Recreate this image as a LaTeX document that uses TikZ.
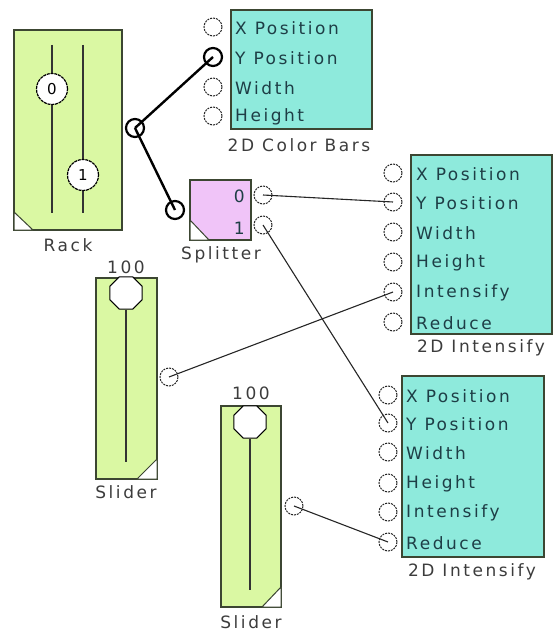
\documentclass[tikz,border=0pt]{standalone}
\usepackage{fontspec}
\usetikzlibrary{shapes.geometric}
\newfontfamily\uifont[LetterSpace=15]{DejaVu Sans}
\definecolor{boxgreen}{RGB}{218,248,163}
\definecolor{boxcyan}{RGB}{142,234,220}
\definecolor{boxpink}{RGB}{240,196,248}
\definecolor{intxt}{RGB}{30,62,70}
\definecolor{lbltxt}{RGB}{60,60,60}
\definecolor{rim}{RGB}{60,70,50}
\begin{document}
\begin{tikzpicture}[x=1pt,y=-1pt,
  mod/.style={draw=rim,line width=1.2pt,minimum width=#1,inner sep=0pt},
  port/.style={circle,draw=black!85,dash pattern=on 2pt off 1pt,line width=1pt,minimum size=18pt,inner sep=0pt},
  bport/.style={circle,draw=black,line width=2.2pt,minimum size=18pt,inner sep=0pt},
  rknob/.style={circle,draw=black,fill=white,dash pattern=on 3pt off 0.8pt,line width=1.2pt,minimum size=31pt,inner sep=0pt,font=\uifont\fontsize{15}{15}\selectfont},
  sknob/.style={regular polygon,regular polygon sides=8,draw=black,fill=white,line width=1.1pt,minimum size=#1,inner sep=0pt},
  intext/.style={anchor=west,inner sep=0pt,text=intxt,font=\uifont\fontsize{17}{17}\selectfont},
  lbl/.style={inner sep=0pt,text=lbltxt,font=\uifont\fontsize{17}{17}\selectfont},
  wire/.style={line width=1.1pt,draw=black!85},
  bwire/.style={line width=2.4pt,draw=black},
  tri/.style={fill=white,draw=rim,line width=1pt},
  rail/.style={line width=1.2pt,draw=black!80}]
\useasboundingbox (0,0) rectangle (553,631);

% ---------- Rack ----------
\node[mod=108pt,minimum height=200pt,fill=boxgreen] (rack) at (68,130) {};
\draw[tri] (14,212) -- (14,230) -- (33,230) -- cycle;
\coordinate (r0t) at (52,45); \coordinate (r0b) at (52,213);
\coordinate (r1t) at (83,45); \coordinate (r1b) at (83,213);
\draw[rail] (r0t) -- (r0b);
\draw[rail] (r1t) -- (r1b);
\node[rknob] (k0) at (52,89) {0};
\node[rknob] (k1) at (83,175) {1};
\node[lbl] (racklbl) at (68,245) {Rack};
\node[bport] (rackout) at (135,128) {};

% ---------- 2D Color Bars ----------
\node[mod=141pt,minimum height=119pt,fill=boxcyan] (cb) at (301.5,69.5) {};
\node[port] (cbx) at (213,27) {};
\node[bport] (cby) at (213,57) {};
\node[port] (cbw) at (213,87) {};
\node[port] (cbh) at (213,116) {};
\node[intext] (cbtx) at (235,28) {X Position};
\node[intext] (cbty) at (235,58) {Y Position};
\node[intext] (cbtw) at (235,88) {Width};
\node[intext] (cbth) at (235,117) {Height};
\node[lbl] (cblbl) at (299,145) {2D Color Bars};

% ---------- Splitter ----------
\node[mod=61pt,minimum height=60pt,fill=boxpink] (sp) at (220.5,210) {};
\draw[tri] (190,220) -- (190,240) -- (209,240) -- cycle;
\node[intext,anchor=east] (sp0) at (245,196) {0};
\node[intext,anchor=east] (sp1) at (245,228) {1};
\node[bport] (spin) at (175,210) {};
\node[port] (spo0) at (263,195) {};
\node[port] (spo1) at (263,225) {};
\node[lbl] (splbl) at (221,255) {Splitter};

% ---------- 2D Intensify (1) ----------
\node[mod=141pt,minimum height=179pt,fill=boxcyan] (ia) at (481.5,244.5) {};
\node[port] (iax) at (393,173) {};
\node[port] (iay) at (393,202) {};
\node[port] (iaw) at (393,232) {};
\node[port] (iah) at (393,262) {};
\node[port] (iai) at (393,292) {};
\node[port] (iar) at (393,322) {};
\node[intext] (iatx) at (416,174) {X Position};
\node[intext] (iaty) at (416,203) {Y Position};
\node[intext] (iatw) at (416,233) {Width};
\node[intext] (iath) at (416,263) {Height};
\node[intext] (iati) at (416,293) {Intensify};
\node[intext] (iatr) at (416,323) {Reduce};
\node[lbl] (ialbl) at (481,348) {2D Intensify};

% ---------- 2D Intensify (2) ----------
\node[mod=142pt,minimum height=181pt,fill=boxcyan] (ib) at (473,466.5) {};
\node[port] (ibx) at (388,395) {};
\node[port] (iby) at (388,423) {};
\node[port] (ibw) at (388,452) {};
\node[port] (ibh) at (388,483) {};
\node[port] (ibi) at (388,512) {};
\node[port] (ibr) at (388,542) {};
\node[intext] (ibtx) at (406,396) {X Position};
\node[intext] (ibty) at (406,424) {Y Position};
\node[intext] (ibtw) at (406,453) {Width};
\node[intext] (ibth) at (406,484) {Height};
\node[intext] (ibti) at (406,513) {Intensify};
\node[intext] (ibtr) at (406,543) {Reduce};
\node[lbl] (iblbl) at (472,572) {2D Intensify};

% ---------- Slider (1) ----------
\node[mod=61pt,minimum height=201pt,fill=boxgreen] (sa) at (126.5,378.5) {};
\draw[tri] (157,459) -- (157,479) -- (137,479) -- cycle;
\coordinate (sabot) at (126,462);
\node[sknob=35pt] (saknob) at (126,293) {};
\draw[rail] (saknob.south) -- (sabot);
\node[lbl] (saval) at (126,267) {100};
\node[lbl] (salbl) at (126,492) {Slider};
\node[port] (saout) at (169,377) {};

% ---------- Slider (2) ----------
\node[mod=60pt,minimum height=201pt,fill=boxgreen] (sb) at (251,506.5) {};
\draw[tri] (281,587) -- (281,607) -- (262,607) -- cycle;
\coordinate (sbbot) at (250,590);
\node[sknob=35pt] (sbknob) at (250,422) {};
\draw[rail] (sbknob.south) -- (sbbot);
\node[lbl] (sbval) at (251,393) {100};
\node[lbl] (sblbl) at (251,622) {Slider};
\node[port] (sbout) at (294,506) {};

% ---------- Wires ----------
\draw[bwire] (rackout.center) -- (cby.center);
\draw[bwire] (rackout.center) -- (spin.center);
\draw[wire] (spo0.center) -- (iay.center);
\draw[wire] (spo1.center) -- (iby.center);
\draw[wire] (saout.center) -- (iai.center);
\draw[wire] (sbout.center) -- (ibr.center);
\end{tikzpicture}
\end{document}
